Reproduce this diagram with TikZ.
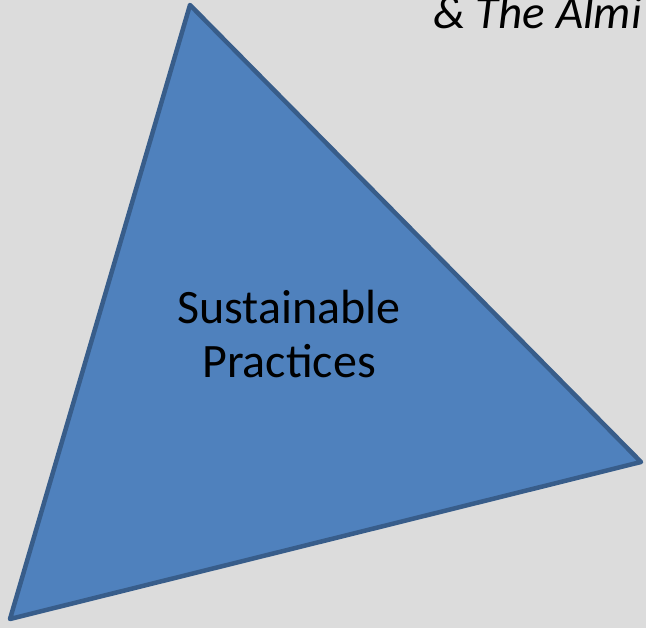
\documentclass[tikz,border=0pt]{standalone}
\usepackage{fontspec}
\setmainfont{Carlito}
\definecolor{bggray}{HTML}{DCDCDC}
\definecolor{trifill}{HTML}{4F81BD}
\definecolor{triedge}{HTML}{385D8A}
\tikzset{
  tri/.style={fill=trifill, draw=triedge, line width=4.5pt, line join=round},
  lbl/.style={font=\fontsize{48}{54}\selectfont, align=center, text=black},
  ttl/.style={font=\fontsize{47}{54}\selectfont\itshape, text=black, anchor=base west, inner sep=0pt}
}
\begin{document}
\begin{tikzpicture}[x=1pt,y=-1pt]
\useasboundingbox (0,0) rectangle (646,628);
\clip (0,0) rectangle (646,628);
\fill[bggray] (0,0) rectangle (646,628);
\coordinate (t) at (190,5);
\coordinate (r) at (641,462);
\coordinate (b) at (10,619);
\draw[tri] (t) -- (r) -- (b) -- cycle;
\node[lbl] (sp) at (289,334) {Sustainable\\Practices};
\node[ttl] (title) at (433,29) {\& The Almi};
\end{tikzpicture}
\end{document}
